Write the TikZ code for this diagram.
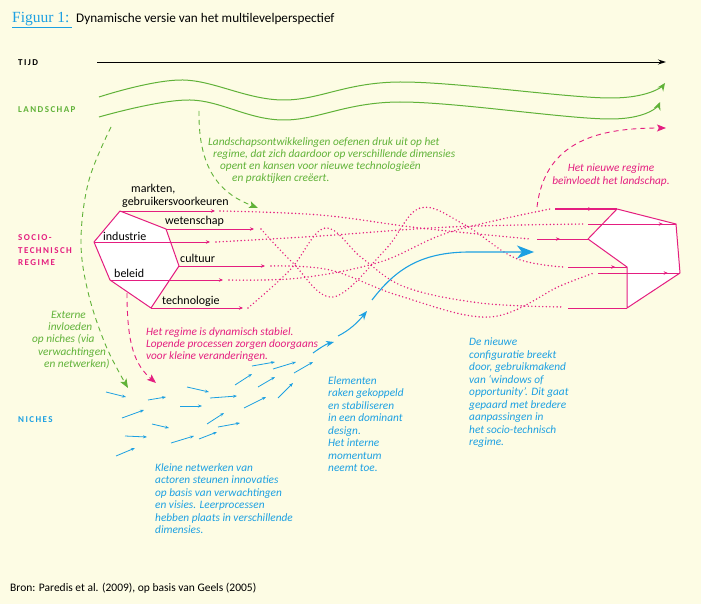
\documentclass[tikz,border=0pt]{standalone}
\usepackage{fontspec}
\setmainfont{Carlito}
\newfontfamily\titlefont{Liberation Serif}
\usetikzlibrary{arrows.meta,decorations.markings}
\definecolor{bgc}{RGB}{253,252,228}
\definecolor{lgreen}{RGB}{96,178,56}
\definecolor{mag}{RGB}{228,30,128}
\definecolor{cyb}{RGB}{28,160,226}
\begin{document}
\begin{tikzpicture}[x=1pt,y=-1pt,
  capslbl/.style={anchor=base west,inner sep=0pt,font=\fontsize{9}{10}\selectfont\bfseries\addfontfeatures{LetterSpace=16}},
  lbl/.style={anchor=base west,inner sep=0pt,font=\fontsize{12}{13}\selectfont},
  itxt/.style={anchor=base west,inner sep=0pt,font=\fontsize{11.3}{12.5}\selectfont\itshape},
  dotl/.style={mag,line width=1.6pt,dash pattern=on 0pt off 3.6pt,line cap=round},
  gdash/.style={lgreen,line width=0.9pt,dash pattern=on 5pt off 4pt,-{Stealth[length=9pt,width=7pt,inset=2pt]}},
  mdash/.style={mag,line width=0.9pt,dash pattern=on 5pt off 4pt,-{Stealth[length=9pt,width=7pt,inset=2pt]}},
  regl/.style={mag,line width=1pt,-{Stealth[length=4pt,width=3.5pt]}},
  marrow/.style={mag,line width=1pt,postaction={decorate},decoration={markings,mark=at position #1 with {\arrow{Stealth[length=4pt,width=3.5pt]}}}},
  narrow/.style={cyb,line width=0.8pt,-{Stealth[length=4pt,width=3pt]}},
  hexa/.style={fill=white,draw=mag,line width=1pt,line join=round}
]
\fill[bgc] (0,0) rectangle (701,604);
\useasboundingbox (0,0) rectangle (701,604);

% title
\node[anchor=base west,inner sep=0pt,font=\titlefont\fontsize{15.5}{17}\selectfont,text=cyb] (ttl) at (12,23) {Figuur 1:};
\draw[cyb,line width=0.8pt] (12,27) -- (72,27);
\node[anchor=base west,inner sep=0pt,font=\fontsize{13.2}{15}\selectfont] (sub) at (76,23) {Dynamische versie van het multilevelperspectief};

% level labels
\node[capslbl] (tijd) at (18,66) {TIJD};
\node[capslbl,text=lgreen] (land) at (18,113) {LANDSCHAP};
\node[capslbl,text=mag] (soc1) at (18,240) {SOCIO-};
\node[capslbl,text=mag] (soc2) at (18,253) {TECHNISCH};
\node[capslbl,text=mag] (soc3) at (18,265) {REGIME};
\node[capslbl,text=cyb] (nich) at (18,422) {NICHES};

% time arrow
\coordinate (t0) at (97,62);
\coordinate (t1) at (666,62);
\draw[line width=0.9pt,-{Stealth[length=8pt,width=5pt]}] (t0) -- (t1);

% landscape waves
\draw[lgreen,line width=1pt,-{Stealth[length=8pt,width=7pt]}] plot[smooth,tension=0.6] coordinates {(99,97) (183,80) (283,100) (400,82) (610,98) (665,83)};
\draw[lgreen,line width=1pt,-{Stealth[length=8pt,width=7pt]}] plot[smooth,tension=0.6] coordinates {(99,117) (190,100) (283,120) (400,102) (610,119) (660,102)};

% landscape dashed arrows
\draw[gdash] (199,111) .. controls (198,175) and (225,195) .. (258,208);
\draw[gdash] plot[smooth,tension=0.6] coordinates {(111,127) (89,180) (81,240) (88,292) (106,346) (128,388)};

% landscape text
\node[itxt,text=lgreen] (lt1) at (208,146) {Landschapsontwikkelingen oefenen druk uit op het};
\node[itxt,text=lgreen] (lt2) at (213,158) {regime, dat zich daardoor op verschillende dimensies};
\node[itxt,text=lgreen] (lt3) at (220,170) {opent en kansen voor nieuwe technologieën};
\node[itxt,text=lgreen] (lt4) at (232,182) {en praktijken creëert.};

% externe text
\node[itxt,text=lgreen] (ex1) at (51,318) {Externe};
\node[itxt,text=lgreen] (ex2) at (48,330) {invloeden};
\node[itxt,text=lgreen] (ex3) at (32,342) {op niches (via};
\node[itxt,text=lgreen] (ex4) at (38,355) {verwachtingen};
\node[itxt,text=lgreen] (ex5) at (44,367) {en netwerken)};

% dotted intertwined lines
\draw[dotl] plot[smooth,tension=0.6] coordinates {(220,211) (320,215) (420,228) (530,239)};
\draw[dotl] plot[smooth,tension=0.6] coordinates {(216,242) (320,236) (450,227) (584,224)};
\draw[dotl] plot[smooth,tension=0.6] coordinates {(261,229) (292,262) (333,297) (385,250) (420,208) (465,225) (515,258) (563,267)};
\draw[dotl] plot[smooth,tension=0.6] coordinates {(248,308) (290,270) (325,228) (362,258) (405,287) (480,303) (563,307)};
\draw[dotl] plot[smooth,tension=0.6] coordinates {(229,280) (300,278) (380,262) (450,232) (550,209)};
\draw[dotl] plot[smooth,tension=0.6] coordinates {(271,266) (330,270) (400,296) (490,317) (560,286) (594,273)};

% old regime hexagon
\filldraw[hexa] (120,211) -- (166,229) -- (179,266) -- (151,308) -- (110,280) -- (94,242) -- cycle;
\draw[regl] (120,211) -- (215,211);
\draw[regl] (166,229) -- (254,229);
\draw[regl] (94,242) -- (210,242);
\draw[regl] (179,266) -- (265,266);
\draw[regl] (110,280) -- (223,280);
\draw[regl] (151,308) -- (243,308);

\node[lbl] (mk) at (131,192.5) {markten,};
\node[lbl] (gb) at (122,205) {gebruikersvoorkeuren};
\node[lbl] (ws) at (165,225) {wetenschap};
\node[lbl] (in) at (103,240) {industrie};
\node[lbl] (cu) at (180,262) {cultuur};
\node[lbl] (be) at (114,277) {beleid};
\node[lbl] (te) at (162,304) {technologie};

% regime dashed down
\draw[mdash] (127,293) .. controls (127,345) and (135,365) .. (156,383);
\node[itxt,text=mag] (st1) at (146,335) {Het regime is dynamisch stabiel.};
\node[itxt,text=mag] (st2) at (146,347) {Lopende processen zorgen doorgaans};
\node[itxt,text=mag] (st3) at (146,359) {voor kleine veranderingen.};

% new regime hexagon
\filldraw[hexa] (617,209) -- (676,224) -- (680,273) -- (627,308) -- (627,267) -- (588,239) -- cycle;
\draw[marrow=0.6] (555,209) -- (617,209);
\draw[marrow=0.85] (588,224) -- (676,224);
\draw[marrow=0.45] (537,239) -- (588,239);
\draw[marrow=0.8] (568,267) -- (627,267);
\draw[marrow=0.85] (598,273) -- (680,273);
\draw[mag,line width=1pt] (568,308) -- (627,308);

% new regime influences landscape
\draw[mdash] (537,207) .. controls (545,140) and (600,128) .. (666,128);
\node[anchor=base,inner sep=0pt,font=\fontsize{11.3}{12.5}\selectfont\itshape,text=mag] (nr1) at (611,172) {Het nieuwe regime};
\node[anchor=base,inner sep=0pt,font=\fontsize{11.3}{12.5}\selectfont\itshape,text=mag] (nr2) at (611,185) {beïnvloedt het landschap.};

% niche arrows
\foreach \a/\b/\c/\d in {106/392/126/397, 148/400/166/397, 187/387/209/392, 210/398/237/396, 235/385/252/374, 252/366/275/362, 273/369/296/362, 294/373/313/362, 180/406/202/406, 122/418/144/410, 152/424/169/428, 125/436/147/437, 116/456/135/448, 171/443/194/436, 199/439/217/432, 207/424/224/413, 218/427/240/423, 244/408/266/397, 258/387/275/377, 278/398/293/383}
  \draw[narrow] (\a,\b) -- (\c,\d);
\draw[cyb,line width=1pt,-{Stealth[length=8pt,width=6pt]}] (313,353) .. controls (320,348) and (326,344) .. (334,342);
\draw[cyb,line width=1pt,-{Stealth[length=9pt,width=7pt]}] (338,336) .. controls (350,330) and (358,322) .. (367,311);
\draw[cyb,line width=1.1pt,-{Stealth[length=17pt,width=13pt,inset=5pt]}] (372,300) .. controls (395,270) and (420,252) .. (470,252) -- (534,252);

% blue texts
\node[itxt,text=cyb,align=left,anchor=north west] (el) at (328,376) {Elementen\\raken gekoppeld\\en stabiliseren\\in een dominant\\design.\\Het interne\\momentum\\neemt toe.};
\node[itxt,text=cyb,align=left,anchor=north west] (dn) at (469,338) {De nieuwe\\configuratie breekt\\door, gebruikmakend\\van ‘windows of\\opportunity’. Dit gaat\\gepaard met bredere\\aanpassingen in\\het socio-technisch\\regime.};
\node[itxt,text=cyb,align=left,anchor=north west] (kn) at (155,463) {Kleine netwerken van\\actoren steunen innovaties\\op basis van verwachtingen\\en visies. Leerprocessen\\hebben plaats in verschillende\\dimensies.};

% source
\node[anchor=base west,inner sep=0pt,font=\fontsize{11.5}{13}\selectfont] (src) at (10,591) {Bron: Paredis et al. (2009), op basis van Geels (2005)};
\end{tikzpicture}
\end{document}
